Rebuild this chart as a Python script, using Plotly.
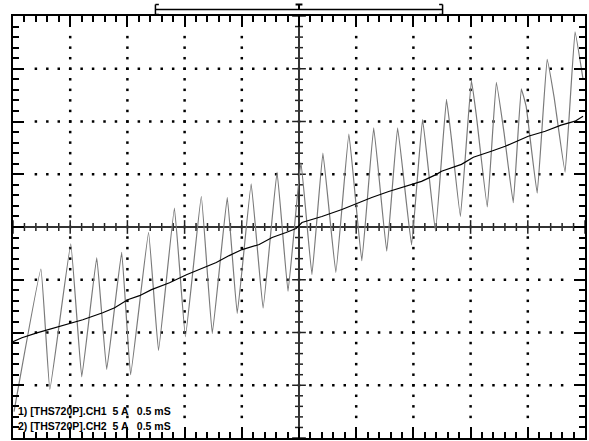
import numpy as np
import plotly.graph_objects as go

# ---- data (time in ms, current in A) ----
ch1_t = [0.009, 0.244, 0.322, 0.505, 0.601, 0.732, 0.819, 0.950, 1.028, 1.185,
         1.272, 1.411, 1.507, 1.646, 1.742, 1.873, 1.960, 2.082, 2.186, 2.308,
         2.404, 2.517, 2.613, 2.709, 2.822, 2.936, 3.049, 3.153, 3.267, 3.362,
         3.484, 3.580, 3.693, 3.789, 3.833, 3.911, 4.007, 4.051, 4.146, 4.225,
         4.294, 4.373, 4.443, 4.486, 4.582, 4.669, 4.730, 4.826, 4.913, 4.983]
ch1_a = [-17.5, -4.0, -15.4, -1.6, -14.2, -2.9, -13.5, -2.4, -14.0, -0.5,
         -11.7, 1.8, -10.4, 2.9, -10.1, 2.8, -8.2, 4.1, -7.7, 5.2,
         -6.1, 6.1, -4.5, 7.0, -4.3, 8.8, -3.2, 9.4, -2.3, 9.4,
         -1.7, 10.2, -0.4, 12.1, 8.3, 1.0, 13.9, 10.5, 1.9, 13.7,
         8.8, 2.3, 13.1, 11.4, 3.2, 15.9, 12.3, 5.2, 18.5, 14.0]

ch2_t = [0.000, 0.078, 0.209, 0.392, 0.514, 0.610, 0.784, 0.889, 1.002, 1.106,
         1.211, 1.368, 1.516, 1.629, 1.777, 1.890, 2.003, 2.152, 2.265, 2.387,
         2.474, 2.526, 2.700, 2.875, 3.005, 3.136, 3.284, 3.432, 3.571, 3.702,
         3.746, 3.920, 4.024, 4.181, 4.303, 4.504, 4.652, 4.791, 4.913, 4.983]
ch2_a = [-10.88, -10.50, -10.03, -9.46, -9.08, -8.79, -8.13, -7.65, -6.89, -6.51,
         -5.94, -5.28, -4.52, -4.04, -3.37, -2.71, -2.14, -1.66, -1.00, -0.52,
         -0.14, 0.43, 1.00, 1.66, 2.23, 2.80, 3.37, 3.85, 4.33, 4.99,
         5.28, 5.94, 6.61, 7.18, 7.65, 8.60, 9.08, 9.65, 10.03, 10.50]

labels = ["1) [THS720P].CH1  5 A   0.5 mS",
          "2) [THS720P].CH2  5 A   0.5 mS"]

X0, X1, XDIV, XMIN = 0.0, 5.0, 0.5, 0.1
Y0, Y1, YDIV, YMIN = -20.0, 20.0, 5.0, 1.0

fig = go.Figure()

# dotted graticule
dx, dy = [], []
for gx in np.arange(X0 + XDIV, X1 - 1e-9, XDIV):
    if abs(gx - 2.5) < 1e-9:
        continue
    for yy in np.arange(Y0 + 2 * YMIN, Y1 - 2 * YMIN + 1e-9, YMIN):
        dx.append(gx); dy.append(yy)
for gy in np.arange(Y0 + YDIV, Y1 - 1e-9, YDIV):
    if abs(gy) < 1e-9:
        continue
    for xx in np.arange(X0 + 2 * XMIN, X1 - 2 * XMIN + 1e-9, XMIN):
        dx.append(xx); dy.append(gy)
fig.add_trace(go.Scatter(x=dx, y=dy, mode="markers",
                         marker=dict(size=2.5, color="black", symbol="square",
                                     line=dict(width=0)),
                         hoverinfo="skip", showlegend=False))

# center axes with crossing ticks
cx, cy = [], []
for xx in np.arange(X0, X1 + 1e-9, XMIN):
    major = abs(xx / XDIV - round(xx / XDIV)) < 1e-6
    h = 0.65 if major else 0.38
    cx += [xx, xx, None]; cy += [-h, h, None]
for yy in np.arange(Y0, Y1 + 1e-9, YMIN):
    major = abs(yy / YDIV - round(yy / YDIV)) < 1e-6
    w = 0.06 if major else 0.035
    cx += [2.5 - w, 2.5 + w, None]; cy += [yy, yy, None]
fig.add_trace(go.Scatter(x=cx, y=cy, mode="lines",
                         line=dict(color="#222222", width=1.5),
                         hoverinfo="skip", showlegend=False))
fig.add_trace(go.Scatter(x=[X0, X1, None, 2.5, 2.5], y=[0, 0, None, Y0, Y1],
                         mode="lines", line=dict(color="#333333", width=2),
                         hoverinfo="skip", showlegend=False))

# waveforms
fig.add_trace(go.Scatter(x=ch1_t, y=ch1_a, mode="lines",
                         line=dict(color="#7a7a7a", width=1.2, shape="spline",
                                   smoothing=0.25),
                         showlegend=False))
fig.add_trace(go.Scatter(x=ch2_t, y=ch2_a, mode="lines",
                         line=dict(color="black", width=1.2),
                         showlegend=False))

axcommon = dict(showgrid=False, zeroline=False, showticklabels=False,
                showline=True, linewidth=2, linecolor="black",
                mirror="allticks", ticks="inside", tickcolor="black",
                tickwidth=2, ticklen=11, fixedrange=True)
fig.update_xaxes(range=[X0, X1], tickmode="linear", tick0=0, dtick=XDIV,
                 minor=dict(dtick=XMIN, ticks="inside", ticklen=6,
                            tickwidth=1.5, tickcolor="black", showgrid=False),
                 **axcommon)
fig.update_yaxes(range=[Y0, Y1], tickmode="linear", tick0=0, dtick=YDIV,
                 minor=dict(dtick=YMIN, ticks="inside", ticklen=6,
                            tickwidth=1.5, tickcolor="black", showgrid=False),
                 **axcommon)

# top position bracket (paper coords)
H = 422.0
def py(p):  # pixels above plot top -> paper y
    return 1 + p / H
yb, yt, ym = py(1.5), py(11.5), py(6.5)
xl, xr, xc = 0.249, 0.751, 0.5
s = 0.006
shapes = []
def seg(x0, y0, x1, y1, w=1.5):
    shapes.append(dict(type="line", xref="paper", yref="paper",
                       x0=x0, y0=y0, x1=x1, y1=y1,
                       line=dict(color="black", width=w)))
seg(xl, ym, xr, ym)
seg(xl, yb, xl, yt); seg(xl, yb, xl + s, yb); seg(xl, yt, xl + s, yt)
seg(xr, yb, xr, yt); seg(xr, yb, xr - s, yb); seg(xr, yt, xr - s, yt)
seg(xc, ym, xc, yt, 2); seg(xc - s, yt, xc + s, yt, 2)
fig.update_layout(shapes=shapes)

for i, lab in enumerate(labels):
    fig.add_annotation(xref="paper", yref="paper", x=0.006, y=0.064 - i * 0.036,
                       xanchor="left", yanchor="middle", showarrow=False,
                       text="<b>" + lab + "</b>",
                       font=dict(family="Liberation Sans, Arial",
                                 size=10.5, color="black"),
                       bgcolor="rgba(255,255,255,0)")

fig.update_layout(width=589, height=441, paper_bgcolor="white",
                  plot_bgcolor="white",
                  margin=dict(l=13, r=2, t=16, b=3))

fig.write_html("out.html", config={"displayModeBar": False},
               post_script="document.body.style.margin='0px';"
                           "document.body.style.overflow='hidden';")
